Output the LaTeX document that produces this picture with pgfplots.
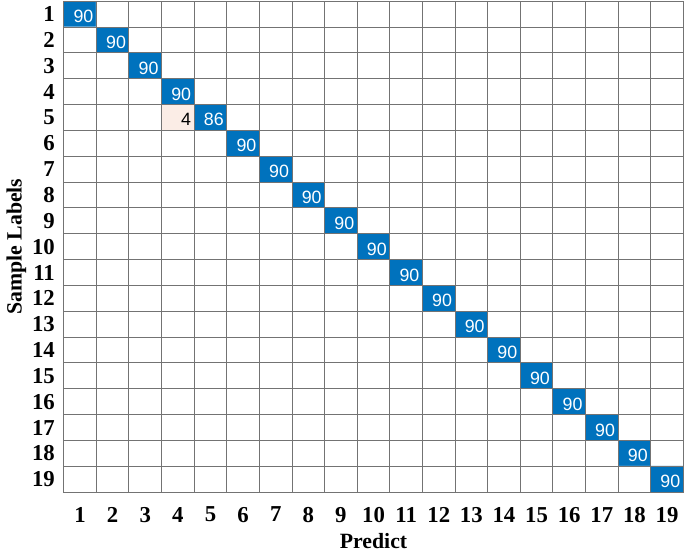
\documentclass[border=0pt]{standalone}
\usepackage{pgfplots}
\pgfplotsset{compat=1.18}
\usepackage{fontspec}
\setmainfont{Liberation Serif}
\newfontfamily\cellfont{Liberation Sans}
\definecolor{cmblue}{RGB}{0,114,189}
\definecolor{cmpink}{RGB}{251,237,230}
\begin{document}
\begin{tikzpicture}
\begin{axis}[
  scale only axis,
  width=313pt, height=248pt,
  xmin=0.5, xmax=19.5, ymin=0.5, ymax=19.5,
  y dir=reverse,
  xtick={1,...,19}, ytick={1,...,19},
  minor xtick={0.5,1.5,...,19.5}, minor ytick={0.5,1.5,...,19.5},
  major tick length=0pt, minor tick length=0pt,
  grid=minor,
  minor grid style={black!55, line width=0.5pt},
  axis line style={black!55, line width=0.5pt},
  axis on top,
  /pgf/number format/assume math mode=true,
  ticklabel style={font=\fontsize{11.5}{13}\selectfont\bfseries},
  xticklabel style={yshift=-4pt},
  yticklabel style={xshift=-1pt},
  xlabel={Predict}, ylabel={Sample Labels},
  label style={font=\fontsize{11}{13}\selectfont\bfseries},
  xlabel style={yshift=1.5pt},
  ylabel style={yshift=-4pt},
  colormap={cm}{rgb255(0cm)=(255,255,255) rgb255(1cm)=(255,255,255) rgb255(2cm)=(251,237,230) rgb255(4cm)=(251,237,230) rgb255(5cm)=(0,114,189) rgb255(90cm)=(0,114,189)},
  point meta min=0, point meta max=90,
]
\addplot[matrix plot*, mesh/cols=19, point meta=explicit] table[row sep=\\, meta=c] {
x y c\\
1 1 90\\2 1 0\\3 1 0\\4 1 0\\5 1 0\\6 1 0\\7 1 0\\8 1 0\\9 1 0\\10 1 0\\11 1 0\\12 1 0\\13 1 0\\14 1 0\\15 1 0\\16 1 0\\17 1 0\\18 1 0\\19 1 0\\
1 2 0\\2 2 90\\3 2 0\\4 2 0\\5 2 0\\6 2 0\\7 2 0\\8 2 0\\9 2 0\\10 2 0\\11 2 0\\12 2 0\\13 2 0\\14 2 0\\15 2 0\\16 2 0\\17 2 0\\18 2 0\\19 2 0\\
1 3 0\\2 3 0\\3 3 90\\4 3 0\\5 3 0\\6 3 0\\7 3 0\\8 3 0\\9 3 0\\10 3 0\\11 3 0\\12 3 0\\13 3 0\\14 3 0\\15 3 0\\16 3 0\\17 3 0\\18 3 0\\19 3 0\\
1 4 0\\2 4 0\\3 4 0\\4 4 90\\5 4 0\\6 4 0\\7 4 0\\8 4 0\\9 4 0\\10 4 0\\11 4 0\\12 4 0\\13 4 0\\14 4 0\\15 4 0\\16 4 0\\17 4 0\\18 4 0\\19 4 0\\
1 5 0\\2 5 0\\3 5 0\\4 5 4\\5 5 86\\6 5 0\\7 5 0\\8 5 0\\9 5 0\\10 5 0\\11 5 0\\12 5 0\\13 5 0\\14 5 0\\15 5 0\\16 5 0\\17 5 0\\18 5 0\\19 5 0\\
1 6 0\\2 6 0\\3 6 0\\4 6 0\\5 6 0\\6 6 90\\7 6 0\\8 6 0\\9 6 0\\10 6 0\\11 6 0\\12 6 0\\13 6 0\\14 6 0\\15 6 0\\16 6 0\\17 6 0\\18 6 0\\19 6 0\\
1 7 0\\2 7 0\\3 7 0\\4 7 0\\5 7 0\\6 7 0\\7 7 90\\8 7 0\\9 7 0\\10 7 0\\11 7 0\\12 7 0\\13 7 0\\14 7 0\\15 7 0\\16 7 0\\17 7 0\\18 7 0\\19 7 0\\
1 8 0\\2 8 0\\3 8 0\\4 8 0\\5 8 0\\6 8 0\\7 8 0\\8 8 90\\9 8 0\\10 8 0\\11 8 0\\12 8 0\\13 8 0\\14 8 0\\15 8 0\\16 8 0\\17 8 0\\18 8 0\\19 8 0\\
1 9 0\\2 9 0\\3 9 0\\4 9 0\\5 9 0\\6 9 0\\7 9 0\\8 9 0\\9 9 90\\10 9 0\\11 9 0\\12 9 0\\13 9 0\\14 9 0\\15 9 0\\16 9 0\\17 9 0\\18 9 0\\19 9 0\\
1 10 0\\2 10 0\\3 10 0\\4 10 0\\5 10 0\\6 10 0\\7 10 0\\8 10 0\\9 10 0\\10 10 90\\11 10 0\\12 10 0\\13 10 0\\14 10 0\\15 10 0\\16 10 0\\17 10 0\\18 10 0\\19 10 0\\
1 11 0\\2 11 0\\3 11 0\\4 11 0\\5 11 0\\6 11 0\\7 11 0\\8 11 0\\9 11 0\\10 11 0\\11 11 90\\12 11 0\\13 11 0\\14 11 0\\15 11 0\\16 11 0\\17 11 0\\18 11 0\\19 11 0\\
1 12 0\\2 12 0\\3 12 0\\4 12 0\\5 12 0\\6 12 0\\7 12 0\\8 12 0\\9 12 0\\10 12 0\\11 12 0\\12 12 90\\13 12 0\\14 12 0\\15 12 0\\16 12 0\\17 12 0\\18 12 0\\19 12 0\\
1 13 0\\2 13 0\\3 13 0\\4 13 0\\5 13 0\\6 13 0\\7 13 0\\8 13 0\\9 13 0\\10 13 0\\11 13 0\\12 13 0\\13 13 90\\14 13 0\\15 13 0\\16 13 0\\17 13 0\\18 13 0\\19 13 0\\
1 14 0\\2 14 0\\3 14 0\\4 14 0\\5 14 0\\6 14 0\\7 14 0\\8 14 0\\9 14 0\\10 14 0\\11 14 0\\12 14 0\\13 14 0\\14 14 90\\15 14 0\\16 14 0\\17 14 0\\18 14 0\\19 14 0\\
1 15 0\\2 15 0\\3 15 0\\4 15 0\\5 15 0\\6 15 0\\7 15 0\\8 15 0\\9 15 0\\10 15 0\\11 15 0\\12 15 0\\13 15 0\\14 15 0\\15 15 90\\16 15 0\\17 15 0\\18 15 0\\19 15 0\\
1 16 0\\2 16 0\\3 16 0\\4 16 0\\5 16 0\\6 16 0\\7 16 0\\8 16 0\\9 16 0\\10 16 0\\11 16 0\\12 16 0\\13 16 0\\14 16 0\\15 16 0\\16 16 90\\17 16 0\\18 16 0\\19 16 0\\
1 17 0\\2 17 0\\3 17 0\\4 17 0\\5 17 0\\6 17 0\\7 17 0\\8 17 0\\9 17 0\\10 17 0\\11 17 0\\12 17 0\\13 17 0\\14 17 0\\15 17 0\\16 17 0\\17 17 90\\18 17 0\\19 17 0\\
1 18 0\\2 18 0\\3 18 0\\4 18 0\\5 18 0\\6 18 0\\7 18 0\\8 18 0\\9 18 0\\10 18 0\\11 18 0\\12 18 0\\13 18 0\\14 18 0\\15 18 0\\16 18 0\\17 18 0\\18 18 90\\19 18 0\\
1 19 0\\2 19 0\\3 19 0\\4 19 0\\5 19 0\\6 19 0\\7 19 0\\8 19 0\\9 19 0\\10 19 0\\11 19 0\\12 19 0\\13 19 0\\14 19 0\\15 19 0\\16 19 0\\17 19 0\\18 19 0\\19 19 90\\
};
% cell counts, white on blue
\addplot[draw=none, mark=none, point meta=explicit symbolic, nodes near coords,
  nodes near coords style={anchor=east, inner sep=0pt, xshift=6.9pt, yshift=-1.2pt,
    font=\cellfont\fontsize{9}{10}\selectfont, text=white}]
  coordinates {
  (1,1)[90] (2,2)[90] (3,3)[90] (4,4)[90] (5,5)[86] (6,6)[90] (7,7)[90]
  (8,8)[90] (9,9)[90] (10,10)[90] (11,11)[90] (12,12)[90] (13,13)[90]
  (14,14)[90] (15,15)[90] (16,16)[90] (17,17)[90] (18,18)[90] (19,19)[90]
};
% off-diagonal count, black on pink
\addplot[draw=none, mark=none, point meta=explicit symbolic, nodes near coords,
  nodes near coords style={anchor=east, inner sep=0pt, xshift=6.9pt, yshift=-1.2pt,
    font=\cellfont\fontsize{9}{10}\selectfont, text=black}]
  coordinates {(4,5)[4]};
\end{axis}
\end{tikzpicture}
\end{document}
